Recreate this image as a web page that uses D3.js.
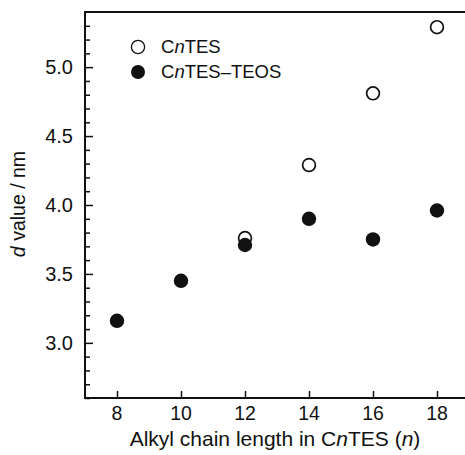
<!DOCTYPE html>
<html><head><meta charset="utf-8">
<script src="https://cdn.jsdelivr.net/npm/d3@7"></script>
<style>body{margin:0;background:#fff}svg{display:block}text{font-family:"Liberation Sans",Arial,sans-serif;fill:#111}</style>
</head><body>
<script>
const nOpen = [12, 14, 16, 18];
const dOpen = [3.76, 4.29, 4.81, 5.29];
const nFilled = [8, 10, 12, 14, 16, 18];
const dFilled = [3.16, 3.45, 3.71, 3.90, 3.75, 3.96];
const xTicks = [8, 10, 12, 14, 16, 18];
const yTicks = [3.0, 3.5, 4.0, 4.5, 5.0];
const legendLabels = ["CnTES", "CnTES–TEOS"];

const W = 465, H = 455;
const L = 85, R = 465, T = 12, B = 398;
const svg = d3.select("body").append("svg").attr("width", W).attr("height", H);
const x = d3.scaleLinear().domain([7, 18.875]).range([L, R]);
const y = d3.scaleLinear().domain([2.6, 5.4]).range([B, T]);

svg.append("path").attr("d", `M${R},${T}H${L}V${B}H${R}`).attr("fill", "none").attr("stroke", "#111").attr("stroke-width", 2);

const xa = svg.append("g").attr("transform", `translate(0,${B})`)
  .call(d3.axisTop(x).tickValues(xTicks).tickSize(7).tickFormat(""));
xa.select(".domain").remove();
xa.selectAll("line").attr("stroke", "#111").attr("stroke-width", 1.5);
svg.append("g").selectAll("text").data(xTicks).join("text")
  .attr("x", d => x(d)).attr("y", 420).attr("text-anchor", "middle")
  .attr("font-size", 19.5).text(d => d);

const minor = d3.range(26, 54).map(v => v / 10).filter(v => Math.abs(v * 2 - Math.round(v * 2)) > 1e-6);
const ym = svg.append("g").attr("transform", `translate(${L},0)`)
  .call(d3.axisRight(y).tickValues(minor).tickSize(5).tickFormat(""));
ym.select(".domain").remove();
ym.selectAll("line").attr("stroke", "#111").attr("stroke-width", 1.5);
const yM = svg.append("g").attr("transform", `translate(${L},0)`)
  .call(d3.axisRight(y).tickValues(yTicks).tickSize(8).tickFormat(""));
yM.select(".domain").remove();
yM.selectAll("line").attr("stroke", "#111").attr("stroke-width", 1.5);
svg.append("g").selectAll("text").data(yTicks).join("text")
  .attr("x", 73).attr("y", d => y(d) + 7).attr("text-anchor", "end")
  .attr("font-size", 20).text(d => d.toFixed(1));

const xt = svg.append("text").attr("x", 275).attr("y", 446).attr("text-anchor", "middle").attr("font-size", 21);
xt.append("tspan").text("Alkyl chain length in C");
xt.append("tspan").attr("font-style", "italic").text("n");
xt.append("tspan").text("TES (");
xt.append("tspan").attr("font-style", "italic").text("n");
xt.append("tspan").text(")");

const yt = svg.append("text").attr("transform", "translate(25,204) rotate(-90)").attr("text-anchor", "middle").attr("font-size", 19.5);
yt.append("tspan").attr("font-style", "italic").text("d");
yt.append("tspan").text(" value / nm");

svg.append("g").selectAll("circle").data(nFilled).join("circle")
  .attr("cx", d => x(d)).attr("cy", (d, i) => y(dFilled[i])).attr("r", 7.2).attr("fill", "#111");
svg.append("g").selectAll("circle").data(nOpen).join("circle")
  .attr("cx", d => x(d)).attr("cy", (d, i) => y(dOpen[i])).attr("r", 6.4).attr("fill", "none").attr("stroke", "#111").attr("stroke-width", 1.7);

const lg = svg.append("g");
lg.append("circle").attr("cx", 138).attr("cy", 47).attr("r", 6.6).attr("fill", "#fff").attr("stroke", "#111").attr("stroke-width", 1.3);
lg.append("circle").attr("cx", 138).attr("cy", 72).attr("r", 7).attr("fill", "#111");
legendLabels.forEach((lab, i) => {
  const t = lg.append("text").attr("x", 161).attr("y", 53 + i * 25).attr("font-size", 18.5);
  t.append("tspan").text("C");
  t.append("tspan").attr("font-style", "italic").text("n");
  t.append("tspan").text(lab.slice(2));
});
</script>
</body></html>
